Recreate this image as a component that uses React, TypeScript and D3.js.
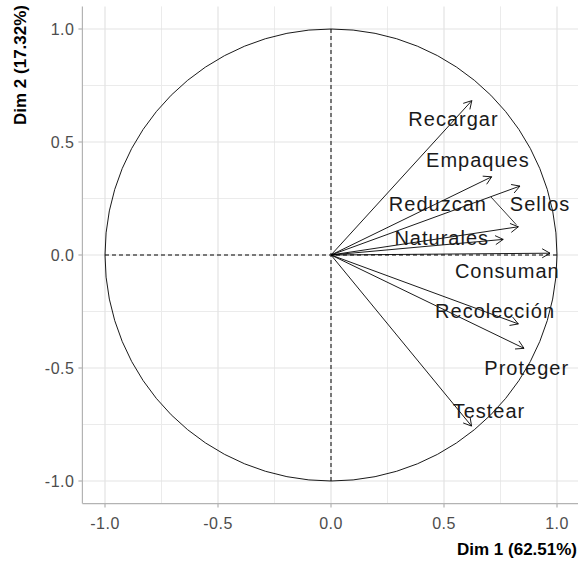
import { useEffect, useRef } from "react";
import * as d3 from "d3";

// variable coordinates (correlations with Dim 1 / Dim 2)
const variables = ["Recargar", "Empaques", "Sellos", "Reduzcan", "Naturales", "Consuman", "Recolección", "Proteger", "Testear"];
const dim1 = [0.623, 0.711, 0.836, 0.829, 0.762, 0.969, 0.829, 0.854, 0.622];
const dim2 = [0.683, 0.346, 0.305, 0.125, 0.069, 0.008, -0.305, -0.413, -0.757];
// repelled label positions (data units)
const labelX = [0.542, 0.65, 0.925, 0.473, 0.49, 0.78, 0.726, 0.866, 0.699];
const labelY = [0.602, 0.42, 0.226, 0.226, 0.075, -0.073, -0.248, -0.5, -0.69];

const ticks = [-1.0, -0.5, 0.0, 0.5, 1.0];
const minorTicks = [-0.75, -0.25, 0.25, 0.75];
const xTitle = "Dim 1 (62.51%)";
const yTitle = "Dim 2 (17.32%)";

export default function App() {
  const ref = useRef<SVGSVGElement | null>(null);

  useEffect(() => {
    if (!ref.current) return;
    const svg = d3.select(ref.current);
    svg.selectAll("*").remove();

    const width = 578;
    const x = d3.scaleLinear().domain([-1.1, 1.1]).range([82.4, 579.6]);
    const y = d3.scaleLinear().domain([-1.1, 1.1]).range([503.6, 6.4]);
    const font = "'Liberation Sans', Arial, sans-serif";

    const panel = svg.append("g");

    // grid
    const grid = panel.append("g");
    minorTicks.forEach((t) => {
      grid.append("line").attr("x1", x(t)).attr("x2", x(t)).attr("y1", y(1.1)).attr("y2", y(-1.1))
        .attr("stroke", "#ebebeb").attr("stroke-width", 1);
      grid.append("line").attr("y1", y(t)).attr("y2", y(t)).attr("x1", x(-1.1)).attr("x2", width)
        .attr("stroke", "#ebebeb").attr("stroke-width", 1);
    });
    ticks.forEach((t) => {
      grid.append("line").attr("x1", x(t)).attr("x2", x(t)).attr("y1", y(1.1)).attr("y2", y(-1.1))
        .attr("stroke", "#e3e3e3").attr("stroke-width", 1.2);
      grid.append("line").attr("y1", y(t)).attr("y2", y(t)).attr("x1", x(-1.1)).attr("x2", width)
        .attr("stroke", "#e3e3e3").attr("stroke-width", 1.2);
    });

    // circle & dashed axes
    panel.append("circle").attr("cx", x(0)).attr("cy", y(0)).attr("r", x(1) - x(0))
      .attr("fill", "none").attr("stroke", "#000").attr("stroke-width", 0.9);
    panel.append("line").attr("x1", x(-1)).attr("x2", x(1)).attr("y1", y(0)).attr("y2", y(0))
      .attr("stroke", "#000").attr("stroke-dasharray", "4,3").attr("stroke-width", 1);
    panel.append("line").attr("x1", x(0)).attr("x2", x(0)).attr("y1", y(1)).attr("y2", y(-1))
      .attr("stroke", "#000").attr("stroke-dasharray", "4,3").attr("stroke-width", 1);

    // arrows
    const arrows = panel.append("g").attr("stroke", "#000").attr("stroke-width", 0.9).attr("fill", "none");
    variables.forEach((_, i) => {
      const x0 = x(0), y0 = y(0), x1 = x(dim1[i]), y1 = y(dim2[i]);
      const ang = Math.atan2(y1 - y0, x1 - x0);
      const len = 9;
      const p = d3.path();
      p.moveTo(x0, y0);
      p.lineTo(x1, y1);
      p.moveTo(x1 - len * Math.cos(ang - Math.PI / 6), y1 - len * Math.sin(ang - Math.PI / 6));
      p.lineTo(x1, y1);
      p.lineTo(x1 - len * Math.cos(ang + Math.PI / 6), y1 - len * Math.sin(ang + Math.PI / 6));
      arrows.append("path").attr("d", p.toString());
    });

    // labels (with repel segment when far from the arrow tip)
    const labels = panel.append("g");
    variables.forEach((name, i) => {
      const t = labels.append("text").attr("x", x(labelX[i])).attr("y", y(labelY[i]))
        .attr("text-anchor", "middle").attr("dominant-baseline", "central")
        .attr("font-family", font).attr("font-size", 20).attr("letter-spacing", 1)
        .attr("fill", "#1a1a1a").text(name);
      const bb = (t.node() as SVGTextElement).getBBox();
      const px = x(dim1[i]), py = y(dim2[i]);
      const cx = Math.max(bb.x, Math.min(px, bb.x + bb.width));
      const cy = Math.max(bb.y + 2, Math.min(py, bb.y + bb.height - 2));
      const dist = Math.hypot(px - cx, py - cy);
      if (dist > 22) {
        labels.append("line").attr("x1", cx + 4).attr("y1", bb.y + 4).attr("x2", px - 2).attr("y2", py - 2)
          .attr("stroke", "#000").attr("stroke-width", 0.8);
      }
    });

    // axes
    const axisColor = "#b3b3b3";
    svg.append("line").attr("x1", x(-1.1)).attr("x2", x(-1.1)).attr("y1", y(1.1)).attr("y2", y(-1.1))
      .attr("stroke", axisColor).attr("stroke-width", 1.2);
    svg.append("line").attr("x1", x(-1.1)).attr("x2", width).attr("y1", y(-1.1)).attr("y2", y(-1.1))
      .attr("stroke", axisColor).attr("stroke-width", 1.2);

    const fmt = (v: number) => v.toFixed(1);
    ticks.forEach((t) => {
      svg.append("line").attr("x1", x(-1.1) - 4).attr("x2", x(-1.1)).attr("y1", y(t)).attr("y2", y(t))
        .attr("stroke", axisColor).attr("stroke-width", 1.2);
      svg.append("text").attr("x", x(-1.1) - 8).attr("y", y(t)).attr("text-anchor", "end")
        .attr("dominant-baseline", "central").attr("font-family", font).attr("font-size", 16)
        .attr("letter-spacing", 0.5).attr("fill", "#4d4d4d").text(fmt(t));
      svg.append("line").attr("x1", x(t)).attr("x2", x(t)).attr("y1", y(-1.1)).attr("y2", y(-1.1) + 4)
        .attr("stroke", axisColor).attr("stroke-width", 1.2);
      svg.append("text").attr("x", x(t)).attr("y", y(-1.1) + 20).attr("text-anchor", "middle")
        .attr("dominant-baseline", "central").attr("font-family", font).attr("font-size", 16)
        .attr("letter-spacing", 0.5).attr("fill", "#4d4d4d").text(fmt(t));
    });

    svg.append("text").attr("x", width - 1).attr("y", 555).attr("text-anchor", "end")
      .attr("font-family", font).attr("font-weight", "bold").attr("font-size", 17)
      .attr("fill", "#000").text(xTitle);
    svg.append("text").attr("transform", `translate(26,5) rotate(-90)`).attr("text-anchor", "end")
      .attr("font-family", font).attr("font-weight", "bold").attr("font-size", 17)
      .attr("fill", "#000").text(yTitle);
  }, []);

  return (
    <svg
      ref={ref}
      width={578}
      height={563}
      style={{ position: "absolute", left: 0, top: 0, background: "#fff" }}
    />
  );
}
